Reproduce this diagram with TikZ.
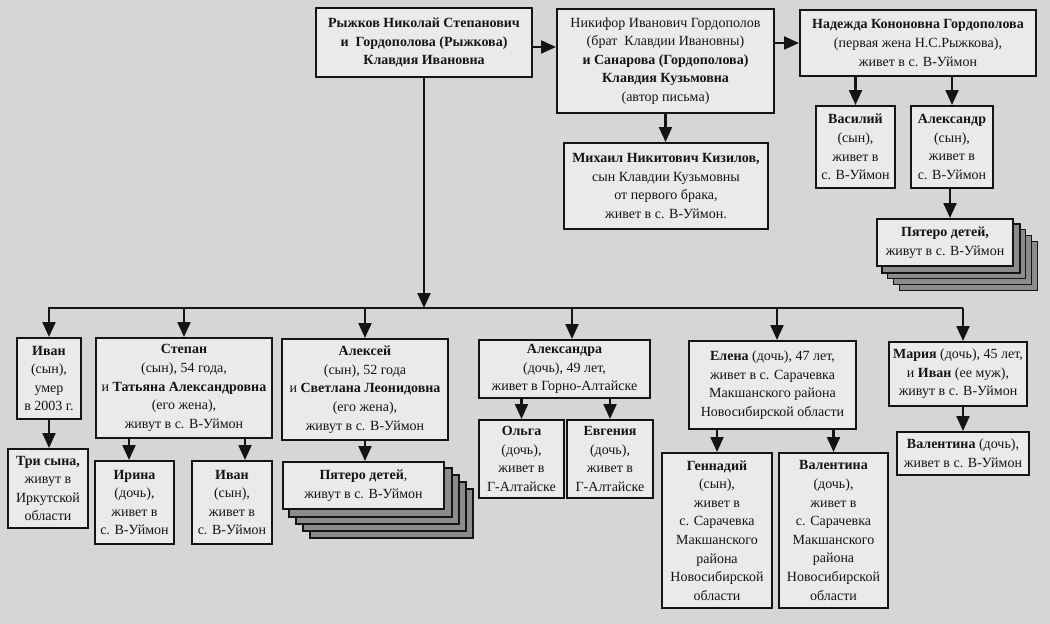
\documentclass[tikz,border=0pt]{standalone}
\usepackage{fontspec}
\setmainfont{Liberation Serif}
\usetikzlibrary{arrows.meta,calc,backgrounds}
\definecolor{pagebg}{RGB}{214,214,214}
\definecolor{boxbg}{RGB}{234,234,234}
\definecolor{ink}{RGB}{20,20,20}
\definecolor{shade}{RGB}{140,140,140}
\tikzset{
  famb/.style={draw=ink, line width=2pt, fill=boxbg, inner sep=0pt, align=center, text=ink,
    font=\fontsize{14}{18.6}\selectfont},
  arr/.style={draw=ink, line width=2.2pt, -{Triangle[length=15pt,width=13pt]}},
  busline/.style={draw=ink, line width=2.2pt},
  shadowbox/.style={draw=ink, line width=1.4pt, fill=shade}
}
\newcommand\mkbox[6]{\node[famb, minimum width={(#4-#2)*1pt}, minimum height={(#5-#3)*1pt}] (#1) at ({(#2+#4)/2},{(#3+#5)/2}) {#6};}
\begin{document}
\begin{tikzpicture}[x=1pt,y=-1pt]
\useasboundingbox (0,0) rectangle (1050,624);
% top row
\mkbox{A}{316}{8}{532}{77}{\textbf{Рыжков Николай Степанович}\\\textbf{и\ \ Гордополова (Рыжкова)}\\\textbf{Клавдия Ивановна}}
\mkbox{B}{557}{9}{774}{113}{Никифор Иванович Гордополов\\(брат\ \ Клавдии Ивановны)\\\textbf{и Санарова (Гордополова)}\\\textbf{Клавдия Кузьмовна}\\(автор письма)}
\mkbox{C}{800}{10}{1036}{76}{\textbf{Надежда Кононовна Гордополова}\\(первая жена Н.С.Рыжкова),\\живет в с. В-Уймон}
\mkbox{M}{564}{143}{768}{229}{\textbf{Михаил Никитович Кизилов,}\\сын Клавдии Кузьмовны\\от первого брака,\\живет в с. В-Уймон.}
\mkbox{V}{816}{106}{895}{188}{\textbf{Василий}\\(сын),\\живет в\\с. В-Уймон}
\mkbox{Al}{911}{106}{993}{188}{\textbf{Александр}\\(сын),\\живет в\\с. В-Уймон}
\mkbox{P1}{877}{219}{1013}{266}{\textbf{Пятеро детей,}\\живут в с. В-Уймон}
% second generation
\mkbox{Ivan}{17}{338}{81}{419}{\textbf{Иван}\\(сын),\\умер\\в 2003 г.}
\mkbox{Tri}{8}{449}{88}{528}{\textbf{Три сына,}\\живут в\\Иркутской\\области}
\mkbox{Stepan}{96}{338}{272}{438}{\textbf{Степан}\\(сын), 54 года,\\и \textbf{Татьяна Александровна}\\(его жена),\\живут в с. В-Уймон}
\mkbox{Irina}{95}{461}{174}{544}{\textbf{Ирина}\\(дочь),\\живет в\\с. В-Уймон}
\mkbox{IvanB}{192}{461}{272}{544}{\textbf{Иван}\\(сын),\\живет в\\с. В-Уймон}
\mkbox{Aleksei}{282}{339}{448}{440}{\textbf{Алексей}\\(сын), 52 года\\и \textbf{Светлана Леонидовна}\\(его жена),\\живут в с. В-Уймон}
\mkbox{P2}{283}{462}{444}{509}{\textbf{Пятеро детей},\\живут в с. В-Уймон}
\mkbox{Alexandra}{479}{340}{650}{398}{\textbf{Александра}\\(дочь), 49 лет,\\живет в Горно-Алтайске}
\mkbox{Olga}{479}{420}{564}{498}{\textbf{Ольга}\\(дочь),\\живет в\\Г-Алтайске}
\mkbox{Evg}{567}{420}{653}{498}{\textbf{Евгения}\\(дочь),\\живет в\\Г-Алтайске}
\mkbox{Elena}{689}{341}{856}{429}{\textbf{Елена} (дочь), 47 лет,\\живет в с. Сарачевка\\Макшанского района\\Новосибирской области}
\mkbox{Genn}{662}{453}{772}{608}{\textbf{Геннадий}\\(сын),\\живет в\\с. Сарачевка\\Макшанского\\района\\Новосибирской\\области}
\mkbox{ValA}{779}{453}{888}{608}{\textbf{Валентина}\\(дочь),\\живет в\\с. Сарачевка\\Макшанского\\района\\Новосибирской\\области}
\mkbox{Maria}{889}{342}{1027}{406}{\textbf{Мария} (дочь), 45 лет,\\и \textbf{Иван} (ее муж),\\живут в с. В-Уймон}
\mkbox{ValB}{897}{432}{1029}{475}{\textbf{Валентина} (дочь),\\живет в с. В-Уймон}
% background layer: page and stacked copies
\begin{pgfonlayer}{background}
  \fill[pagebg] (0,0) rectangle (1050,624);
  \foreach \k in {4,3,2,1} {
    \draw[shadowbox] ($(P1.north west)+(\k*5.8,\k*5.8)$) rectangle ($(P1.south east)+(\k*5.8,\k*5.8)$);
    \draw[shadowbox] ($(P2.north west)+(\k*7,\k*7)$) rectangle ($(P2.south east)+(\k*7,\k*7)$);
  }
\end{pgfonlayer}
% connectors, top
\draw[arr] (A.east |- 0,47) -- (B.west |- 0,47);
\draw[arr] (B.east |- 0,43) -- (C.west |- 0,43);
\draw[arr] (B.south) -- (B.south |- M.north);
\draw[arr] (V.north |- C.south) -- (V.north);
\draw[arr] (Al.north |- C.south) -- (Al.north);
\draw[arr] ([xshift=-2pt]Al.south) -- ([xshift=-2pt]Al.south |- P1.north);
% bus
\coordinate (busL) at (48,308);
\coordinate (busR) at (963,308);
\coordinate (bAlx) at (572,308);
\coordinate (bEl) at (777,308);
\draw[busline] (busL) -- (busR);
\draw[arr] (A.south) -- (A.south |- busL);
\draw[arr] (Ivan.north |- busL) -- (Ivan.north);
\draw[arr] (Stepan.north |- busL) -- (Stepan.north);
\draw[arr] (Aleksei.north |- busL) -- (Aleksei.north);
\draw[arr] (bAlx) -- (bAlx |- Alexandra.north);
\draw[arr] (bEl) -- (bEl |- Elena.north);
\draw[arr] (busR) -- (busR |- Maria.north);
% lower connectors
\draw[arr] (Ivan.south) -- (Ivan.south |- Tri.north);
\draw[arr] ([xshift=-55pt]Stepan.south) -- ([xshift=-55pt]Stepan.south |- Irina.north);
\draw[arr] ([xshift=61pt]Stepan.south) -- ([xshift=61pt]Stepan.south |- IvanB.north);
\draw[arr] (Aleksei.south) -- (Aleksei.south |- P2.north);
\draw[arr] (Olga.north |- Alexandra.south) -- (Olga.north);
\draw[arr] (Evg.north |- Alexandra.south) -- (Evg.north);
\draw[arr] (Genn.north |- Elena.south) -- (Genn.north);
\draw[arr] (ValA.north |- Elena.south) -- (ValA.north);
\draw[arr] (ValB.north |- Maria.south) -- (ValB.north);
\end{tikzpicture}
\end{document}
